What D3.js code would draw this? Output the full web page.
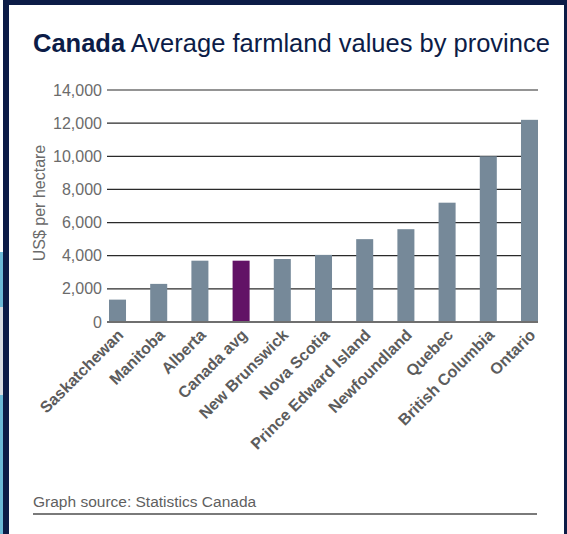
<!DOCTYPE html>
<html>
<head>
<meta charset="utf-8">
<script src="https://cdn.jsdelivr.net/npm/d3@7"></script>
<style>
  html, body { margin: 0; padding: 0; background: #fff; }
  svg { display: block; }
</style>
</head>
<body>
<svg id="chart" width="567" height="534"></svg>
<script>
// Average farmland values by province (US$ per hectare)
const provinces = ["Saskatchewan", "Manitoba", "Alberta", "Canada avg", "New Brunswick",
  "Nova Scotia", "Prince Edward Island", "Newfoundland", "Quebec", "British Columbia", "Ontario"];
const values = [1350, 2300, 3700, 3700, 3800, 4050, 5000, 5600, 7200, 10000, 12200];
const highlighted = ["Canada avg"];
const yTicks = [0, 2000, 4000, 6000, 8000, 10000, 12000, 14000];

const svg = d3.select("#chart");
const W = 567, H = 534;
const NAVY = "#0c1c47";

// Page backdrop: side strip, frame and white panel
svg.append("rect").attr("x", 0).attr("y", 0).attr("width", W).attr("height", H).attr("fill", "#fff");
svg.append("rect").attr("x", 0).attr("y", 252).attr("width", 4).attr("height", H - 252).attr("fill", "#6cbad7");
svg.append("rect").attr("x", 0).attr("y", 307).attr("width", 4).attr("height", 88).attr("fill", "#d9dde2");
svg.append("rect").attr("x", 3).attr("y", 0).attr("width", W - 3).attr("height", H).attr("fill", NAVY);
svg.append("rect").attr("x", 9).attr("y", 5).attr("width", 555).attr("height", H - 5).attr("fill", "#fff");

// Title
const title = svg.append("text")
  .attr("x", 33).attr("y", 52)
  .attr("font-family", "Liberation Sans, Arial, sans-serif")
  .attr("font-size", 25.5)
  .attr("fill", NAVY);
title.append("tspan").attr("font-weight", "bold").text("Canada");
title.append("tspan").text(" Average farmland values by province");

// Scales
const x = d3.scaleBand().domain(provinces).range([109, 538]).paddingInner(0.587).paddingOuter(0);
const y = d3.scaleLinear().domain([0, 14000]).range([322, 90]);

// Gridlines
svg.append("g").selectAll("line").data(yTicks.filter(d => d > 0)).join("line")
  .attr("x1", 107).attr("x2", 538)
  .attr("y1", d => y(d)).attr("y2", d => y(d))
  .attr("stroke", "#2a2a2a").attr("stroke-width", 1.2);

// Bars
svg.append("g").selectAll("rect").data(provinces).join("rect")
  .attr("x", d => x(d))
  .attr("width", x.bandwidth())
  .attr("y", (d, i) => y(values[i]))
  .attr("height", (d, i) => y(0) - y(values[i]))
  .attr("fill", d => highlighted.includes(d) ? "#621266" : "#768999");

// Baseline
svg.append("line").attr("x1", 107).attr("x2", 538).attr("y1", y(0)).attr("y2", y(0))
  .attr("stroke", "#6f6f6f").attr("stroke-width", 2);

// Y tick labels
const yAxis = d3.axisLeft(y).tickValues(yTicks).tickSize(0).tickPadding(0)
  .tickFormat(d3.format(","));
const gy = svg.append("g").attr("transform", "translate(102,0)").call(yAxis);
gy.select(".domain").remove();
gy.selectAll("text")
  .attr("font-family", "Liberation Sans, Arial, sans-serif")
  .attr("font-size", 16)
  .attr("fill", "#6b6b6b");

// Y axis title
svg.append("text")
  .attr("transform", "translate(45,203) rotate(-90)")
  .attr("text-anchor", "middle")
  .attr("font-family", "Liberation Sans, Arial, sans-serif")
  .attr("font-size", 16)
  .attr("fill", "#6b6b6b")
  .text("US$ per hectare");

// Category labels, rotated
const xAxis = d3.axisBottom(x).tickSize(0).tickPadding(0);
const gx = svg.append("g").attr("transform", "translate(0,0)").call(xAxis);
gx.select(".domain").remove();
gx.selectAll(".tick").attr("transform", d => `translate(${x(d) + x.bandwidth() / 2 + 7},336)`);
gx.selectAll("text")
  .attr("x", 0).attr("y", 0).attr("dy", 0)
  .attr("transform", "rotate(-45)")
  .attr("text-anchor", "end")
  .attr("font-family", "Liberation Sans, Arial, sans-serif")
  .attr("font-size", 16)
  .attr("font-weight", "bold")
  .attr("fill", "#5c5c5c");

// Source note and rule
svg.append("text")
  .attr("x", 33).attr("y", 507)
  .attr("font-family", "Liberation Sans, Arial, sans-serif")
  .attr("font-size", 15.5)
  .attr("fill", "#5f5f5f")
  .text("Graph source: Statistics Canada");
svg.append("line").attr("x1", 33).attr("x2", 537).attr("y1", 514).attr("y2", 514)
  .attr("stroke", "#7a7a7a").attr("stroke-width", 2);
</script>
</body>
</html>
